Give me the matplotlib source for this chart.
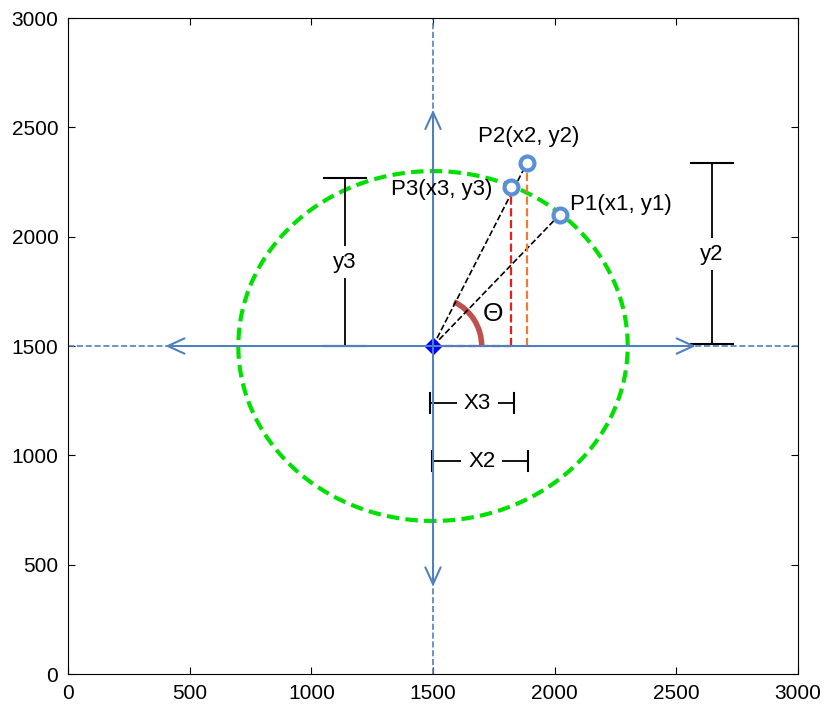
import matplotlib.pyplot as plt
import numpy as np
from matplotlib.patches import Arc

plt.rcParams['font.family'] = ['Liberation Sans', 'DejaVu Sans']

# Datos
centro = (1500, 1500)
radio = 800
flecha_min, flecha_max = 400, 2580
puntos_x = [2020, 1885, 1821]   # P1, P2, P3
puntos_y = [2100, 2335, 2225]
etiquetas = ['P1(x1, y1)', 'P2(x2, y2)', 'P3(x3, y3)']
ticks = [0, 500, 1000, 1500, 2000, 2500, 3000]

azul = '#4f81bd'
azul_pto = '#5b8fd6'

fig = plt.figure(figsize=(8.24, 7.04), dpi=100)
ax = fig.add_axes([0.0825, 0.0426, 0.886, 0.9318])

cx, cy = centro

# ejes punteados
ax.plot([0, 3000], [cy, cy], '--', color=azul, lw=1.2)
ax.plot([cx, cx], [0, 3000], '--', color=azul, lw=1.2)

# flechas dobles
for a, b in [((flecha_min, cy), (flecha_max, cy)), ((cx, flecha_min), (cx, flecha_max))]:
    ax.annotate('', xy=b, xytext=a,
                arrowprops=dict(arrowstyle='<->,head_length=1.2,head_width=0.55',
                                color=azul, lw=1.5, shrinkA=0, shrinkB=0))

# circulo verde
t = np.linspace(0, 2 * np.pi, 400)
ax.plot(cx + radio * np.cos(t), cy + radio * np.sin(t), '--', color='#00e000',
        lw=3, dashes=(3, 1.5))

# lineas negras al centro
for i in [0, 1]:
    ax.plot([cx, puntos_x[i]], [cy, puntos_y[i]], '--', color='black', lw=1.2)

# proyecciones
ax.plot([puntos_x[2], puntos_x[2]], [cy, puntos_y[2]], '--', color='#e8201c', lw=1.6)
ax.plot([cx, puntos_x[2]], [cy, cy], '--', color='#e8201c', lw=1.6)
ax.plot([puntos_x[1], puntos_x[1]], [cy, puntos_y[1]], '--', color='#ed7d31', lw=1.6)

# arco theta
ax.add_patch(Arc(centro, 400, 448, theta1=0, theta2=67, color='#c0504d', lw=4))
ax.text(1745, 1645, 'Θ', fontsize=19, ha='center', va='center')

# centro
ax.plot(cx, cy, 'D', color='#0000ff', ms=8)

# puntos
ax.plot(puntos_x, puntos_y, 'o', mfc='white', mec=azul_pto, mew=3, ms=10, ls='none')
ax.text(2063, puntos_y[0] + 45, etiquetas[0], fontsize=16, ha='left', va='center')
ax.text(1685, 2460, etiquetas[1], fontsize=16, ha='left', va='center')
ax.text(1745, puntos_y[2] - 8, etiquetas[2], fontsize=16, ha='right', va='center')

# cotas verticales
def cota_v(x, y0, y1, txt, ytxt):
    ax.plot([x, x], [y0, y1], color='black', lw=1.3)
    ax.plot([x - 85, x + 85], [y0, y0], color='black', lw=1.5)
    ax.plot([x - 85, x + 85], [y1, y1], color='black', lw=1.5)
    ax.text(x, ytxt, txt, fontsize=16, ha='center', va='center',
            bbox=dict(facecolor='white', edgecolor='none', pad=4))

cota_v(1138, 1500, 2270, 'y3', 1884)
cota_v(2647, 1510, 2337, 'y2', 1920)

# cotas horizontales
def cota_h(y, x0, x1, txt, xtxt):
    ax.plot([x0, x1], [y, y], color='black', lw=1.3)
    ax.plot([x0, x0], [y - 45, y + 45], color='black', lw=1.5)
    ax.plot([x1, x1], [y - 45, y + 45], color='black', lw=1.5)
    ax.text(xtxt, y, txt, fontsize=16, ha='center', va='center',
            bbox=dict(facecolor='white', edgecolor='none', pad=5))

cota_h(1239, 1488, 1833, 'X3', 1681)
cota_h(974, 1496, 1891, 'X2', 1701)

ax.set_xlim(0, 3000)
ax.set_ylim(0, 3000)
ax.set_xticks(ticks)
ax.set_yticks(ticks)
ax.tick_params(direction='in', top=True, right=True, length=5, labelsize=15, pad=7)

plt.savefig('out.png', dpi=100)
